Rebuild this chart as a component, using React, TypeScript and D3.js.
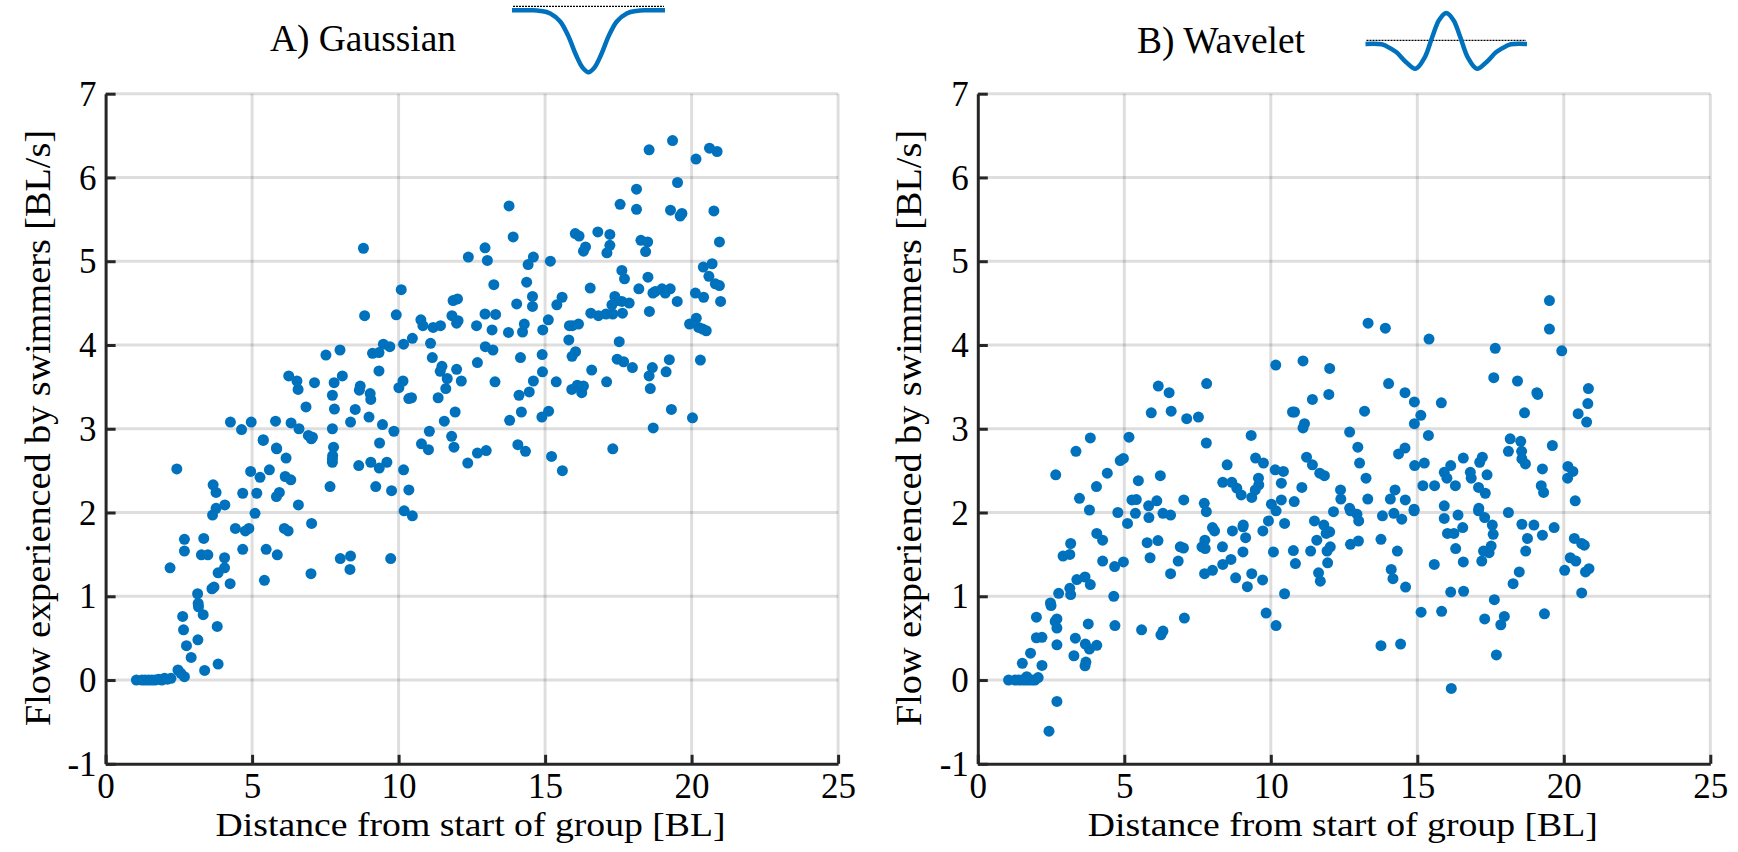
import React, { useEffect, useRef } from "react";
import * as d3 from "d3";

const xTicks = [0, 5, 10, 15, 20, 25];
const yTicks = [-1, 0, 1, 2, 3, 4, 5, 6, 7];
const xLabel = "Distance from start of group [BL]";
const yLabel = "Flow experienced by swimmers [BL/s]";

const gaussianPoints: [number, number][] = [
  [1.05,0],[1.24,0],[1.35,0],[1.47,0],[1.58,0],[1.69,0],[1.81,.01],[1.92,0],[2.01,.02],[2.11,.01],[2.23,.02],
  [2.47,.12],[2.57,.08],[2.69,.04],[3.38,.115],[3.84,.19],[2.92,.27],[2.76,.41],[3.15,.48],[2.66,.6],[3.81,.64],
  [2.63,.76],[3.33,.78],[3.17,.875],[3.16,.915],[3.14,1.03],[3.63,1.09],[3.7,1.11],[4.25,1.15],[5.42,1.19],[7.01,1.27],
  [8.34,1.32],[2.2,1.34],[3.84,1.28],[4.06,1.34],[4.06,1.46],[3.27,1.495],[3.49,1.495],[4.68,1.56],[5.48,1.56],[5.86,1.495],
  [2.69,1.54],[2.69,1.68],[3.35,1.69],[8.01,1.45],[8.36,1.48],[9.73,1.45],[4.43,1.81],[4.77,1.78],[4.89,1.81],[6.1,1.81],
  [6.23,1.78],[7.03,1.87],[5.1,1.99],[3.65,1.97],[3.77,2.05],[4.07,2.09],[6.58,2.09],[10.19,2.02],[10.47,1.96],[4.68,2.23],
  [5.16,2.23],[5.83,2.19],[5.93,2.24],[3.77,2.24],[3.67,2.33],[9.22,2.31],[9.76,2.26],[10.35,2.27],[7.66,2.31],[4.95,2.49],
  [5.59,2.51],[5.27,2.42],[6.13,2.43],[6.32,2.39],[8.64,2.56],[9.05,2.6],[9.34,2.53],[9.6,2.6],[10.17,2.51],[2.43,2.52],
  [7.75,2.68],[7.74,2.64],[7.74,2.6],[7.78,2.78],[6.16,2.65],[5.84,2.76],[5.38,2.86],[7.02,2.88],[9.35,2.83],[10.78,2.82],[11.02,2.75],
  [8.8,5.155],[12.38,5.05],[10.09,4.66],[11.86,4.53],[12.01,4.55],[8.84,4.35],[9.92,4.36],[10.76,4.3],[10.83,4.23],[11.18,4.21],
  [11.43,4.23],[11.82,4.35],[12.03,4.29],[11.98,4.26],[12.66,4.23],[10.47,4.08],[10.17,4.01],[11.09,4.02],[9.48,4.01],[9.7,3.98],
  [9.11,3.9],[9.33,3.91],[8,3.94],[7.52,3.88],[11.15,3.85],[12.69,3.79],[11.48,3.745],[11.42,3.685],[11.98,3.71],[11.66,3.6],
  [12.14,3.57],[11.61,3.48],[9.33,3.69],[6.25,3.63],[6.53,3.57],[6.57,3.47],[7.13,3.55],[8.08,3.63],[7.8,3.55],[8.69,3.51],
  [8.66,3.46],[7.74,3.4],[9.03,3.42],[9.05,3.35],[10.15,3.57],[10.01,3.49],[10.35,3.36],[10.44,3.37],[11.35,3.37],[6.84,3.26],
  [7.81,3.235],[8.52,3.23],[11.93,3.2],[11.56,3.09],[8.99,3.14],[8.36,3.08],[9.45,3.05],[9.84,2.97],[7.74,3],[4.26,3.08],
  [4.64,2.99],[4.97,3.08],[5.8,3.09],[6.33,3.07],[6.6,3],[6.92,2.92],[7.06,2.9],[5.38,2.87],[5.83,2.77],[11.05,2.97],[11.81,2.91],[11.89,2.78],
  [12.36,2.59],[12.69,2.71],[12.99,2.74],[13.79,3.1],[14.19,3.2],[14.07,2.81],[14.33,2.73],[14.89,3.14],[15.12,3.21],[15.22,2.67],
  [15.59,2.5],[17.31,2.76],[18.69,3.01],[19.31,3.23],[20.03,3.13],
  [12.95,4.37],[13.31,4.365],[13.19,4.18],[13.75,4.15],[14.29,4.25],[14.23,4.155],[14.92,4.18],[15.11,4.3],[15.83,4.23],[15.93,4.23],
  [16.14,4.25],[15.81,4.06],[17.53,4.04],[16.56,4.38],[16.82,4.35],[17.08,4.37],[17.31,4.37],[17.64,4.38],[18.56,4.4],[12.96,3.98],
  [13.22,3.94],[14.16,3.85],[14.9,3.885],[14.91,3.68],[14.6,3.57],[15.38,3.56],[13.29,3.56],[14.11,3.4],[14.46,3.44],[16.04,3.92],
  [15.92,3.865],[17.46,3.83],[17.68,3.8],[17.98,3.73],[16.59,3.7],[17.1,3.56],[15.91,3.47],[16.1,3.52],[16.31,3.51],[16.25,3.43],
  [18.66,3.73],[18.55,3.63],[18.59,3.48],[19.24,3.825],[19.13,3.68],[20.3,3.82],[19.93,4.25],[20.16,4.32],[20.24,4.21],[20.38,4.19],[20.5,4.17],
  [18.55,6.33],[19.35,6.44],[20.15,6.22],[20.61,6.35],[20.87,6.31],[19.52,5.94],[18.12,5.86],[13.77,5.66],[17.56,5.68],[18.12,5.62],
  [19.28,5.61],[19.67,5.57],[19.61,5.54],[20.76,5.6],[13.91,5.29],[12.95,5.16],[13.03,5.01],[14.6,5.05],[14.42,4.96],[15.18,5],
  [16.03,5.33],[16.16,5.3],[16.8,5.35],[17.21,5.32],[17.21,5.19],[17.11,5.1],[16.38,5.17],[16.31,5.12],[18.27,5.25],[18.5,5.23],
  [18.43,5.115],[20.95,5.23],[20.7,4.97],[20.4,4.93],[20.59,4.82],[20.81,4.73],[20.95,4.71],[17.62,4.89],[17.71,4.79],[18.51,4.81],
  [18.2,4.67],[16.54,4.68],[13.25,4.72],[14.37,4.75],[14.57,4.58],[14.57,4.46],[14.03,4.49],[15.58,4.57],[15.4,4.48],[18.68,4.62],
  [18.76,4.64],[18.99,4.67],[19.1,4.62],[19.27,4.67],[20.13,4.62],[20.41,4.57],[19.51,4.52],[20.99,4.52],[17.38,4.58],[17.28,4.48],
  [17.45,4.53],[17.62,4.52],[17.87,4.5],
];

const waveletPoints: [number, number][] = [
  [1.05,0],[1.27,0],[1.4,0],[1.51,0],[1.63,0],[1.74,0],[1.85,0],[1.95,0],[1.67,.04],[2.06,.03],[2.19,.175],[1.52,.2],[1.8,.32],
  [2.7,.42],[2,.505],[2.19,.51],[2.7,.62],[2.64,.7],[2.7,.73],[2,.75],[2.43,-.61],[2.7,-.255],[3.28,.29],[3.66,.17],[3.69,.215],
  [3.81,.37],[3.67,.43],[4.06,.415],[3.33,.5],[3.77,.67],[4.68,.65],[5.59,.6],[6.25,.54],[6.32,.585],[7.05,.74],[4.64,1],
  [2.5,.89],[2.48,.92],[2.76,1.035],[3.17,1.02],[3.14,1.095],[3.38,1.2],[3.66,1.23],[3.84,1.14],[2.91,1.48],[3.14,1.5],[3.17,1.63],
  [4.06,1.75],[4.26,1.67],[4.26,1.42],[4.67,1.355],[4.97,1.41],[5.78,1.64],[6.15,1.665],[5.88,1.46],[6.84,1.42],[6.58,1.27],
  [6.91,1.59],[7.02,1.575],[5.11,1.87],[7.75,1.67],[7.65,1.59],[7.76,1.57],[8.35,1.59],[8.01,1.82],[8.08,1.78],[8.69,1.78],
  [9.06,1.85],[9.05,1.83],[9.14,1.7],[9.73,1.78],[9.92,1.9],[10.47,1.87],[9.05,1.53],[10.09,1.53],[10.77,1.545],[10.84,1.39],
  [8.64,1.44],[8.36,1.38],[8.01,1.31],[7.74,1.27],[8.8,1.22],[9.35,1.27],[9.2,1.115],[9.72,1.195],[10.47,1.03],[9.84,.8],[10.18,.65],
  [10.17,3.76],[6.16,3.51],[6.53,3.43],[7.81,3.54],[10.74,3.2],[5.92,3.19],[6.6,3.21],[7.13,3.12],[7.53,3.14],[3.84,2.89],[5.16,2.9],
  [9.33,2.92],[7.8,2.83],[3.35,2.73],[9.48,2.65],[9.75,2.59],[10.15,2.51],[10.43,2.49],[4.97,2.645],[4.86,2.62],[8.51,2.57],[2.66,2.45],
  [4.42,2.47],[6.23,2.44],[5.48,2.38],[9.58,2.41],[9.59,2.33],[9.47,2.27],[9.35,2.18],[8.36,2.36],[8.67,2.36],[8.84,2.29],[8.99,2.21],
  [10.36,2.35],[4.05,2.31],[3.47,2.17],[5.26,2.15],[5.41,2.155],[6.11,2.14],[7.03,2.15],[7.73,2.11],[10.02,2.1],[10.36,2.15],[10.8,2.13],
  [5.83,2.08],[3.81,2.03],[4.78,2],[5.38,1.99],[6.32,1.99],[6.58,1.97],[7.8,2.01],[5.84,1.94],[10.18,2.02],
  [16.16,-.1],[13.76,.41],[14.43,.43],[17.7,.3],[15.13,.81],[15.83,.82],[17.3,.73],[17.97,.76],[17.85,.66],[19.34,.79],[17.63,.96],
  [16.14,1.05],[16.58,1.06],[14.6,1.11],[20.61,1.04],[18.27,1.15],[18.48,1.29],[14.11,1.32],[14.17,1.21],[15.58,1.38],[16.57,1.41],
  [17.2,1.42],[18.7,1.54],[20.03,1.31],[20.74,1.29],[20.86,1.33],[20.22,1.46],[20.41,1.42],[20.36,1.69],[20.61,1.63],[20.7,1.61],
  [19.67,1.82],[19.27,1.73],[18.98,1.85],[18.76,1.69],[18.57,1.86],[16.31,1.57],[17.26,1.54],[17.45,1.52],[17.52,1.6],[16.03,1.75],
  [16.25,1.75],[16.55,1.82],[15.92,1.93],[16.39,1.97],[17.59,1.74],[17.56,1.85],[17.3,1.94],[14.32,1.54],[13.76,1.68],[12.99,1.66],
  [12.72,1.62],[12.03,1.59],[11.92,1.54],[11.94,1.4],[11.63,1.28],[11.69,1.18],[11.36,1.54],[11.57,1.67],[11.49,1.9],[11.81,1.85],
  [12.01,1.77],[11.89,1.75],[12.14,2.01],[13,1.9],[12.94,1.98],[12.72,2.02],[13.81,1.96],[14.2,1.99],[14.47,1.92],[14.89,2.02],[18.11,2],[17.09,2.02],
  [19.51,4.53],[19.51,4.19],[13.32,4.26],[13.91,4.2],[15.4,4.07],[17.66,3.96],[19.93,3.93],[11.1,3.81],[12.01,3.72],[11.98,3.41],
  [11.42,3.35],[10.81,3.2],[11.15,3.06],[11.1,3.01],[14.02,3.54],[14.58,3.43],[14.9,3.32],[15.82,3.31],[15.12,3.16],[14.9,3.06],
  [13.2,3.21],[12.69,2.96],[15.38,2.92],[17.61,3.61],[18.42,3.57],[19.11,3.41],[19.08,3.43],[18.66,3.19],[20.49,3.18],[20.84,3.48],[20.82,3.3],[20.78,3.08],
  [12.97,2.78],[13.03,2.59],[13.25,2.41],[12.38,2.27],[12.39,2.16],[13.31,2.16],[11.22,2.66],[11.42,2.57],[11.67,2.47],[11.83,2.44],
  [11.06,2.3],[14.58,2.77],[14.36,2.7],[14.91,2.56],[15.24,2.59],[18.17,2.88],[18.53,2.85],[18.11,2.73],[18.56,2.73],[18.57,2.64],[18.69,2.58],
  [19.61,2.8],[19.27,2.52],[19.23,2.32],[19.31,2.24],[20.14,2.55],[20.31,2.49],[20.13,2.41],[20.39,2.14],[16.57,2.65],[16.14,2.56],
  [15.92,2.48],[16.01,2.41],[16.3,2.32],[15.19,2.32],[15.59,2.32],[17.22,2.66],[17.13,2.6],[16.81,2.48],[16.84,2.41],[17.38,2.45],
  [17.09,2.3],[17.32,2.23],[14.24,2.27],[14.08,2.16],[14.59,2.15],[14.89,2.04],[15.92,2.08],[17.1,2.05],[12.69,2.05],
];

// inset pulse shapes (position, height; outer end to centre, mirrored when drawn)
const gaussianPulse: [number, number][] = [
  [-1,0],[-.75,0],[-.63,-.01],[-.5,-.05],[-.37,-.18],[-.27,-.4],[-.16,-.73],[-.08,-.92],[0,-1],
];
const waveletPulse: [number, number][] = [
  [-1,0],[-.8,-.01],[-.74,-.07],[-.62,-.26],[-.5,-.58],[-.38,-.8],[-.27,-.45],[-.17,.25],[-.09,.77],[0,1],
];

const BLUE = "#0072BD";
const INK = "#262626";
const FONT = "'Liberation Serif', serif";

function mirror(p: [number, number][]): [number, number][] {
  const right = p.slice(0, -1).reverse().map(([x, y]) => [-x, y] as [number, number]);
  return [...p, ...right];
}

type PanelProps = {
  left: number;
  points: [number, number][];
  yLabelX: number;
};

function Panel({ left, points, yLabelX }: PanelProps) {
  const ref = useRef<SVGGElement>(null);
  const x = d3.scaleLinear().domain([0, 25]).range([left, left + 732.5]);
  const y = d3.scaleLinear().domain([-1, 7]).range([763.8, 93.7]);

  useEffect(() => {
    const g = d3.select(ref.current);
    g.selectAll("*").remove();
    const grid = g.append("g");
    grid.selectAll("line.v").data(xTicks.slice(1)).join("line").attr("class", "v")
      .attr("x1", d => x(d)).attr("x2", d => x(d)).attr("y1", y(-1)).attr("y2", y(7));
    grid.selectAll("line.h").data(yTicks.slice(1)).join("line").attr("class", "h")
      .attr("x1", x(0)).attr("x2", x(25)).attr("y1", d => y(d)).attr("y2", d => y(d));
    grid.selectAll("line").attr("stroke", "#000").attr("stroke-opacity", 0.13).attr("stroke-width", 3);

    const ax = g.append("g").attr("transform", `translate(0,${y(-1)})`)
      .call(d3.axisBottom(x).tickValues(xTicks).tickFormat(d => String(d)).tickSizeInner(-9).tickSizeOuter(0).tickPadding(9));
    const ay = g.append("g").attr("transform", `translate(${x(0)},0)`)
      .call(d3.axisLeft(y).tickValues(yTicks).tickFormat(d => String(d)).tickSizeInner(-10).tickSizeOuter(0).tickPadding(9));
    [ax, ay].forEach(a => {
      a.select(".domain").attr("stroke", INK).attr("stroke-width", 3);
      a.selectAll(".tick line").attr("stroke", INK).attr("stroke-width", 3);
      a.selectAll("text").attr("fill", "#000").attr("font-family", FONT).attr("font-size", 35);
    });
    ay.selectAll("text").attr("dy", "0.33em");

    g.append("g").selectAll("circle").data(points).join("circle")
      .attr("cx", d => x(d[0])).attr("cy", d => y(d[1])).attr("r", 5.5).attr("fill", BLUE);

    g.append("text").text(xLabel)
      .attr("x", x(0) + 365).attr("y", 836).attr("text-anchor", "middle")
      .attr("font-family", FONT).attr("font-size", 33).attr("fill", "#000")
      .attr("textLength", 510).attr("lengthAdjust", "spacingAndGlyphs");
    g.append("text").text(yLabel)
      .attr("transform", `translate(${yLabelX},428) rotate(-90)`).attr("text-anchor", "middle")
      .attr("font-family", FONT).attr("font-size", 36).attr("fill", "#000")
      .attr("textLength", 596).attr("lengthAdjust", "spacingAndGlyphs");
  }, []);

  return <g ref={ref} />;
}

function Inset({ pulse, x0, x1, baseY, amp, dashY, stroke }: {
  pulse: [number, number][]; x0: number; x1: number; baseY: number; amp: number; dashY: number; stroke: number;
}) {
  const sx = d3.scaleLinear().domain([-1, 1]).range([x0, x1]);
  const sy = d3.scaleLinear().domain([0, 1]).range([baseY, baseY - amp]);
  const path = d3.line<[number, number]>().x(d => sx(d[0])).y(d => sy(d[1])).curve(d3.curveCatmullRom.alpha(0.5));
  return (
    <g>
      <line x1={x0 + 1} x2={x1 - 1} y1={dashY} y2={dashY} stroke="#000" strokeWidth={1.2} strokeDasharray="2 1" />
      <path d={path(mirror(pulse)) ?? ""} fill="none" stroke={BLUE} strokeWidth={stroke} strokeLinejoin="round" />
    </g>
  );
}

export default function App() {
  return (
    <svg width={1738} height={852} style={{ position: "absolute", left: 0, top: 0, background: "#fff" }}>
      <Panel left={105.6} points={gaussianPoints} yLabelX={50} />
      <Panel left={977.8} points={waveletPoints} yLabelX={921} />
      <text x={270} y={51} fontFamily={FONT} fontSize={38} textLength={186} lengthAdjust="spacingAndGlyphs">A) Gaussian</text>
      <text x={1137} y={53} fontFamily={FONT} fontSize={38} textLength={168} lengthAdjust="spacingAndGlyphs">B) Wavelet</text>
      <Inset pulse={gaussianPulse} x0={512} x1={665} baseY={10.3} amp={62} dashY={6.3} stroke={4.5} />
      <Inset pulse={waveletPulse} x0={1365.5} x1={1527} baseY={44} amp={31} dashY={40.3} stroke={4.5} />
    </svg>
  );
}
